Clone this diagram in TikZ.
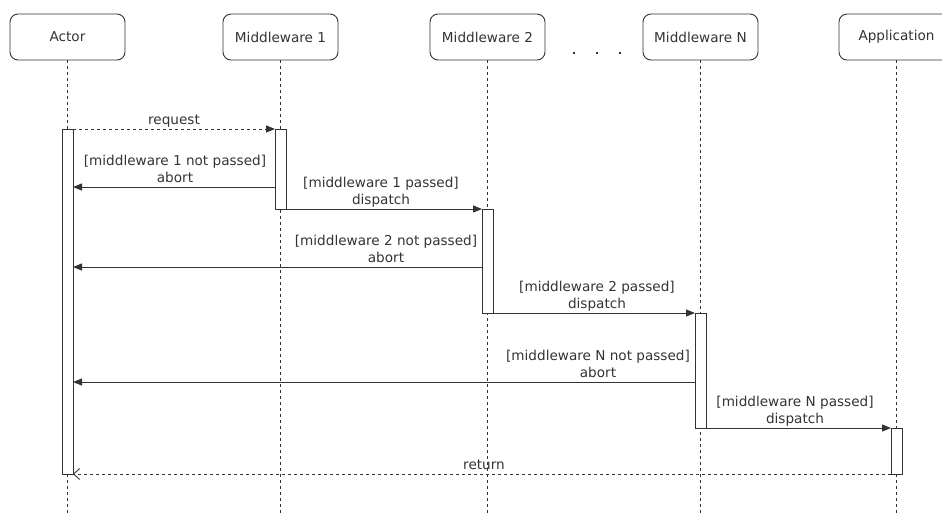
\documentclass[tikz,border=0pt]{standalone}
\usepackage{fontspec}
\setmainfont{DejaVu Sans}
\usetikzlibrary{arrows.meta}
\definecolor{ink}{HTML}{333333}
% invisible rule that gives every label's last line the same depth
\newcommand\lblstrut{\rule[-3.5pt]{0pt}{3.5pt}}
\begin{document}
\begin{tikzpicture}[x=1pt,y=-1pt,
  every node/.style={text=ink},
  txt/.style={font=\fontsize{13.6}{17}\selectfont},
  head/.style={txt,draw=ink,line width=0.9pt,rounded corners=8pt,fill=white,
    minimum width=115pt,minimum height=46pt,inner sep=0pt},
  lifeline/.style={draw=ink,line width=0.9pt,dash pattern=on 3pt off 3pt},
  actbar/.style={draw=ink,line width=0.9pt,fill=white,minimum width=11pt,
    inner sep=0pt,outer sep=0pt,anchor=north},
  msg/.style={draw=ink,line width=0.9pt,-{Triangle[length=9pt,width=7pt]}},
  dmsg/.style={msg,dash pattern=on 3pt off 3pt},
  reply/.style={draw=ink,line width=0.9pt,dash pattern=on 3pt off 3pt,
    -{Straight Barb[length=6pt,width=11pt,line width=0.9pt]}},
  lbl/.style={txt,align=center,inner sep=0pt,anchor=south}]
\useasboundingbox (0,0) rectangle (942,515);

% participants
\node[head] (actor) at (67.5,37) {Actor};
\node[head] (mw1) at (280.5,37) {Middleware 1};
\node[head] (mw2) at (487.5,37) {Middleware 2};
\node[head] (mwn) at (700.5,37) {Middleware N};
\node[head] (app) at (896.5,37) {Application};

% ellipsis between the middlewares
\foreach \dx in {574,597,620}
  \fill[ink] (\dx-1.3,51.7) rectangle (\dx+1.3,54.3);

% lifelines
\foreach \p in {actor,mw1,mw2,mwn,app}
  \draw[lifeline] (\p.south) -- (\p.south |- 0,515);

% activation bars
\node[actbar,minimum height=345pt] (actorbar) at (67.5,129) {};
\node[actbar,minimum height=80pt] (mw1bar) at (280.5,129) {};
\node[actbar,minimum height=104pt] (mw2bar) at (487.5,209) {};
\node[actbar,minimum height=115pt] (mwnbar) at (700.5,313) {};
\node[actbar,minimum height=46pt] (appbar) at (896.5,428) {};

% messages
\draw[dmsg] (actorbar.north east) -- (mw1bar.north west);
\node[lbl] (lreq) at (174,128.5) {request\lblstrut};

\draw[msg] (mw1bar.west |- 0,187) -- (actorbar.east |- 0,187);
\node[lbl] (lab1) at (175,186.5) {[middleware 1 not passed]\\abort\lblstrut};

\draw[msg] (mw1bar.south east) -- (mw2bar.north west);
\node[lbl] (ldis1) at (381,208.5) {[middleware 1 passed]\\dispatch\lblstrut};

\draw[msg] (mw2bar.west |- 0,267) -- (actorbar.east |- 0,267);
\node[lbl] (lab2) at (386,266.5) {[middleware 2 not passed]\\abort\lblstrut};

\draw[msg] (mw2bar.south east) -- (mwnbar.north west);
\node[lbl] (ldis2) at (597,312.5) {[middleware 2 passed]\\dispatch\lblstrut};

\draw[msg] (mwnbar.west |- 0,382) -- (actorbar.east |- 0,382);
\node[lbl] (labn) at (598,381.5) {[middleware N not passed]\\abort\lblstrut};

\draw[msg] (mwnbar.south east) -- (appbar.north west);
\node[lbl] (ldisn) at (795,427.5) {[middleware N passed]\\dispatch\lblstrut};

\draw[reply] (appbar.south west) -- (actorbar.south east);
\node[lbl] (lret) at (484,473.5) {return\lblstrut};
\end{tikzpicture}
\end{document}
